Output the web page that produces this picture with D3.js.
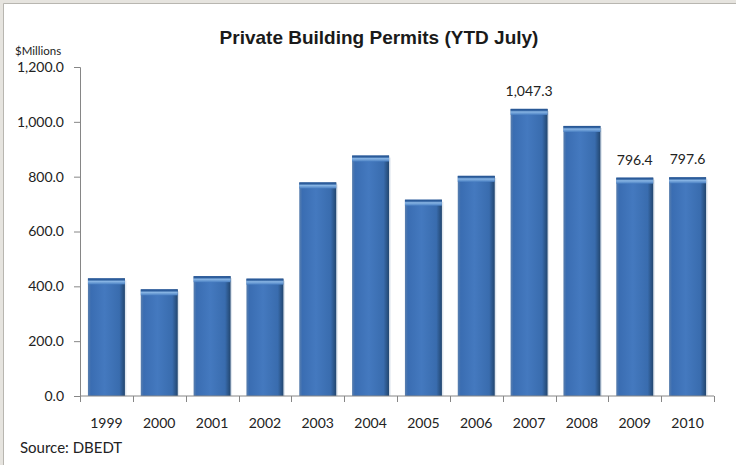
<!DOCTYPE html>
<html>
<head>
<meta charset="utf-8">
<script src="https://cdn.jsdelivr.net/npm/d3@7"></script>
<style>
  body { margin: 0; background: #e6e4df; }
  svg { display: block; }
</style>
</head>
<body>
<svg id="mainsvg" width="736" height="465"></svg>
<script>
const years = ['1999','2000','2001','2002','2003','2004','2005','2006','2007','2008','2009','2010'];
const permits = [429, 389, 437, 428, 779, 877, 716, 803, 1047.3, 985, 796.4, 797.6];
const labelled = ['2007', '2009', '2010'];
const yTicks = [0, 200, 400, 600, 800, 1000, 1200];

const svg = d3.select('#mainsvg');
const width = +svg.attr('width');
const height = +svg.attr('height');
const margin = {top: 67, right: 22, bottom: 69, left: 80};
const innerWidth = width - margin.left - margin.right;
const innerHeight = height - margin.top - margin.bottom;
const labelFont = 'Lato, "Open Sans", sans-serif';

// white panel, frame only on left and top
svg.append('rect')
    .attr('x', 4).attr('y', 4)
    .attr('width', width - 4).attr('height', height - 4)
    .attr('fill', '#fff');
svg.append('path')
    .attr('d', `M3.5,${height} V3.5 H${width}`)
    .attr('fill', 'none')
    .attr('stroke', '#b8b6b0');

const defs = svg.append('defs');
const grad = defs.append('linearGradient').attr('id', 'barGrad')
    .attr('x1', 0).attr('x2', 1).attr('y1', 0).attr('y2', 0);
grad.append('stop').attr('offset', '0%').attr('stop-color', '#5a7fae');
grad.append('stop').attr('offset', '8%').attr('stop-color', '#3a6db2');
grad.append('stop').attr('offset', '45%').attr('stop-color', '#4479bf');
grad.append('stop').attr('offset', '85%').attr('stop-color', '#396cae');
grad.append('stop').attr('offset', '100%').attr('stop-color', '#22466f');

const capGrad = defs.append('linearGradient').attr('id', 'capGrad')
    .attr('x1', 0).attr('x2', 0).attr('y1', 0).attr('y2', 1);
capGrad.append('stop').attr('offset', '0%').attr('stop-color', '#24528f');
capGrad.append('stop').attr('offset', '25%').attr('stop-color', '#2f609f');
capGrad.append('stop').attr('offset', '50%').attr('stop-color', '#88b5e4');
capGrad.append('stop').attr('offset', '100%').attr('stop-color', '#4a80c3');

const xScale = d3.scaleBand()
    .domain(years)
    .range([0, innerWidth])
    .paddingInner(0.3)
    .paddingOuter(0.15);

const yScale = d3.scaleLinear()
    .domain([0, 1200])
    .range([innerHeight, 0]);

const g = svg.append('g').attr('id', 'maingroup')
    .attr('transform', `translate(${margin.left}, ${margin.top})`);

// bars
const bars = g.selectAll('.bar').data(years).enter().append('g').attr('class', 'bar');
bars.append('rect')
    .attr('x', d => xScale(d) + 1.5)
    .attr('y', (d, i) => yScale(permits[i]) + 2)
    .attr('width', xScale.bandwidth())
    .attr('height', (d, i) => innerHeight - yScale(permits[i]) - 2)
    .attr('fill', '#dfe6ee');
bars.append('rect')
    .attr('x', d => xScale(d))
    .attr('y', (d, i) => yScale(permits[i]))
    .attr('width', xScale.bandwidth())
    .attr('height', (d, i) => innerHeight - yScale(permits[i]))
    .attr('fill', 'url(#barGrad)');
bars.append('rect')
    .attr('x', d => xScale(d))
    .attr('y', (d, i) => yScale(permits[i]))
    .attr('width', xScale.bandwidth())
    .attr('height', 6)
    .attr('fill', 'url(#capGrad)');

// value labels
g.selectAll('.barValueText')
    .data(years.filter(d => labelled.includes(d)))
    .enter().append('text')
    .classed('barValueText', true)
    .attr('x', d => xScale(d) + xScale.bandwidth() / 2)
    .attr('y', d => yScale(permits[years.indexOf(d)]) - 13)
    .attr('text-anchor', 'middle')
    .attr('font-family', labelFont)
    .attr('font-size', 14)
    .attr('fill', '#222')
    .text(d => d3.format(',.1f')(permits[years.indexOf(d)]));

// y axis
const yAxis = d3.axisLeft(yScale)
    .tickValues(yTicks)
    .tickSize(6)
    .tickPadding(10)
    .tickFormat(d3.format(',.1f'));
const yAxisG = g.append('g').call(yAxis);

// x axis with ticks on category boundaries
const xAxisG = g.append('g').attr('transform', `translate(0, ${innerHeight})`);
xAxisG.append('line')
    .attr('x1', 0).attr('x2', innerWidth)
    .attr('stroke', '#868686');
const step = xScale.step();
const bounds = d3.range(years.length + 1).map(i => xScale(years[0]) - step * xScale.paddingInner() / 2 + i * step);
xAxisG.selectAll('.xtick').data(bounds).enter().append('line')
    .attr('x1', d => Math.round(d) + 0.5).attr('x2', d => Math.round(d) + 0.5)
    .attr('y1', 0).attr('y2', 6)
    .attr('stroke', '#868686');
xAxisG.selectAll('.xlab').data(years).enter().append('text')
    .attr('x', d => xScale(d) + xScale.bandwidth() / 2)
    .attr('y', 32)
    .attr('text-anchor', 'middle')
    .attr('font-family', labelFont)
    .attr('font-size', 14)
    .attr('fill', '#222')
    .text(d => d);

yAxisG.select('.domain').attr('stroke', '#868686');
yAxisG.selectAll('.tick line').attr('stroke', '#868686');
yAxisG.selectAll('.tick text')
    .attr('font-family', labelFont)
    .attr('font-size', 14)
    .attr('fill', '#222');

// titles
svg.append('text')
    .attr('x', 379).attr('y', 44)
    .attr('text-anchor', 'middle')
    .attr('font-family', '"Liberation Sans", Arial, sans-serif')
    .attr('font-weight', 'bold')
    .attr('font-size', 19)
    .attr('fill', '#1a1a1a')
    .text('Private Building Permits (YTD July)');

svg.append('text')
    .attr('x', 15).attr('y', 55)
    .attr('font-family', labelFont)
    .attr('font-size', 11.5)
    .attr('fill', '#222')
    .text('$Millions');

svg.append('text')
    .attr('x', 20).attr('y', 453)
    .attr('font-family', labelFont)
    .attr('font-size', 15)
    .attr('fill', '#222')
    .text('Source: DBEDT');
</script>
</body>
</html>
